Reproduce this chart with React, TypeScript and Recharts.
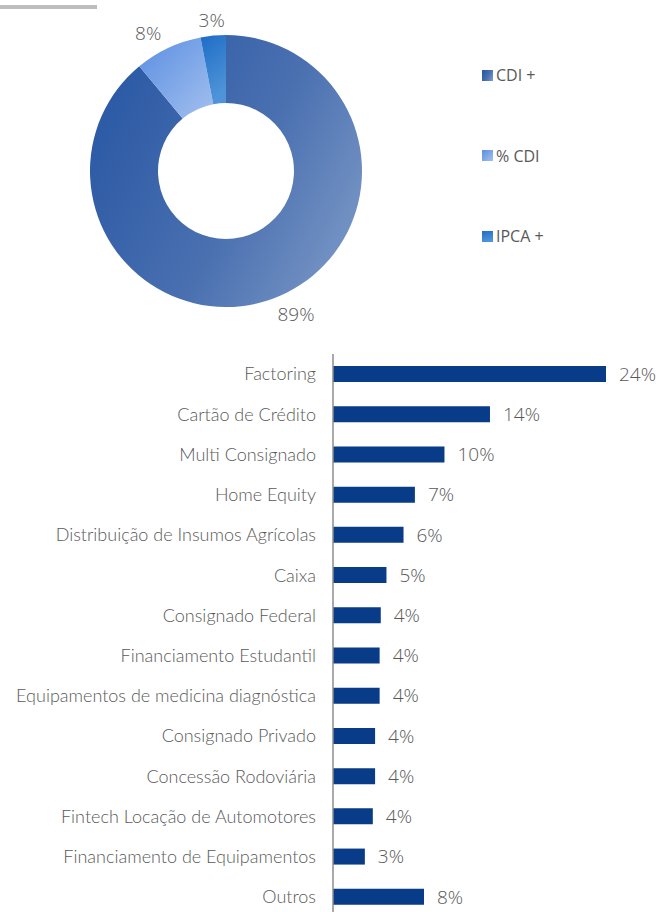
import React from "react";
import { PieChart, Pie, Cell, Legend, BarChart, Bar, XAxis, YAxis, LabelList } from "recharts";

const indexNames = ["CDI +", "% CDI", "IPCA +"];
const indexShares = [89, 8, 3];

const sectors = [
  "Factoring",
  "Cartão de Crédito",
  "Multi Consignado",
  "Home Equity",
  "Distribuição de Insumos Agrícolas",
  "Caixa",
  "Consignado Federal",
  "Financiamento Estudantil",
  "Equipamentos de medicina diagnóstica",
  "Consignado Privado",
  "Concessão Rodoviária",
  "Fintech Locação de Automotores",
  "Financiamento de Equipamentos",
  "Outros",
];
const sectorShares = [24, 13.8, 9.8, 7.2, 6.2, 4.7, 4.2, 4.1, 4.1, 3.7, 3.7, 3.5, 2.8, 8.0];

const pieData = indexNames.map((name, i) => ({ name, value: indexShares[i] }));
const barData = sectors.map((name, i) => ({ name, value: sectorShares[i] }));

const gradIds = ["gCdiPlus", "gPctCdi", "gIpca"];
const LABEL_FONT = "'Open Sans', sans-serif";
const CAT_FONT = "Lato, sans-serif";
const RAD = Math.PI / 180;

const renderPieLabel = (props: any) => {
  const { cx, cy, midAngle, outerRadius, value } = props;
  const r = outerRadius + 16;
  const x = cx + r * Math.cos(-midAngle * RAD);
  const y = cy + r * Math.sin(-midAngle * RAD);
  const anchor = Math.abs(x - cx) < 20 ? "middle" : x > cx ? "start" : "end";
  return (
    <text
      x={x}
      y={y}
      fill="#595959"
      fontSize={19}
      fontWeight={300}
      fontFamily={LABEL_FONT}
      textAnchor={anchor}
      dominantBaseline="central"
    >
      {value}%
    </text>
  );
};

const renderLegend = () => {
  return (
    <div style={{ display: "flex", flexDirection: "column" }}>
      {indexNames.map((name, i) => (
        <div
          key={name}
          style={{
            display: "flex",
            alignItems: "center",
            height: 20,
            marginBottom: i < indexNames.length - 1 ? 60.5 : 0,
            fontFamily: LABEL_FONT,
            fontSize: 16,
            fontWeight: 400,
            color: "#595959",
          }}
        >
          <svg width={11} height={11} style={{ marginRight: 3 }}>
            <rect x={0} y={0} width={11} height={11} fill={`url(#${gradIds[i]})`} />
          </svg>
          <span>{name}</span>
        </div>
      ))}
    </div>
  );
};

export default function App() {
  return (
    <div
      style={{
        position: "absolute",
        left: 0,
        top: 0,
        width: 659,
        height: 912,
        overflow: "hidden",
        background: "#fff",
      }}
    >
      <svg width={0} height={0} style={{ position: "absolute" }}>
        <defs>
          <linearGradient id="gCdiPlus" x1="0" y1="0.3" x2="1" y2="0.8">
            <stop offset="0%" stopColor="#2b59a5" />
            <stop offset="55%" stopColor="#4a70b0" />
            <stop offset="100%" stopColor="#7a97c6" />
          </linearGradient>
          <linearGradient id="gPctCdi" x1="0" y1="0" x2="1" y2="1">
            <stop offset="0%" stopColor="#5a8ee2" />
            <stop offset="100%" stopColor="#a3c0ee" />
          </linearGradient>
          <linearGradient id="gIpca" x1="0" y1="0" x2="0.3" y2="1">
            <stop offset="0%" stopColor="#1d6cc6" />
            <stop offset="100%" stopColor="#4f94d8" />
          </linearGradient>
        </defs>
      </svg>

      <div
        style={{
          position: "absolute",
          left: 0,
          top: 5,
          width: 97,
          height: 4,
          background: "#bdbdbb",
        }}
      />

      <div style={{ position: "absolute", left: 0, top: 0 }}>
        <PieChart width={659} height={330} margin={{ top: 0, right: 0, bottom: 0, left: 0 }}>
          <Pie
            data={pieData}
            dataKey="value"
            nameKey="name"
            cx={226}
            cy={171}
            innerRadius={68}
            outerRadius={136}
            startAngle={90}
            endAngle={-270}
            stroke="none"
            label={renderPieLabel}
            labelLine={false}
            isAnimationActive={false}
          >
            {pieData.map((d, i) => (
              <Cell key={d.name} fill={`url(#${gradIds[i]})`} />
            ))}
          </Pie>
          <Legend
            layout="vertical"
            verticalAlign="top"
            align="right"
            content={renderLegend}
            wrapperStyle={{ left: 482, top: 65, width: 120 }}
          />
        </PieChart>
      </div>

      <div style={{ position: "absolute", left: 0, top: 354 }}>
        <BarChart
          width={659}
          height={563}
          data={barData}
          layout="vertical"
          margin={{ top: 0, right: 53, bottom: 0, left: 0 }}
          barSize={16}
        >
          <XAxis type="number" hide domain={[0, 24]} />
          <YAxis
            type="category"
            dataKey="name"
            width={333}
            axisLine={{ stroke: "#8c8c8c", strokeWidth: 1.5 }}
            tickLine={false}
            tickSize={0}
            tickMargin={17}
            interval={0}
            tick={{ fill: "#595959", fontSize: 18, fontWeight: 300, fontFamily: CAT_FONT }}
          />
          <Bar dataKey="value" fill="#083b88" isAnimationActive={false}>
            <LabelList
              dataKey="value"
              position="right"
              offset={13}
              formatter={(v: any) => `${Math.round(Number(v))}%`}
              fill="#595959"
              fontSize={19}
              fontWeight={300}
              fontFamily={LABEL_FONT}
            />
          </Bar>
        </BarChart>
      </div>
    </div>
  );
}
